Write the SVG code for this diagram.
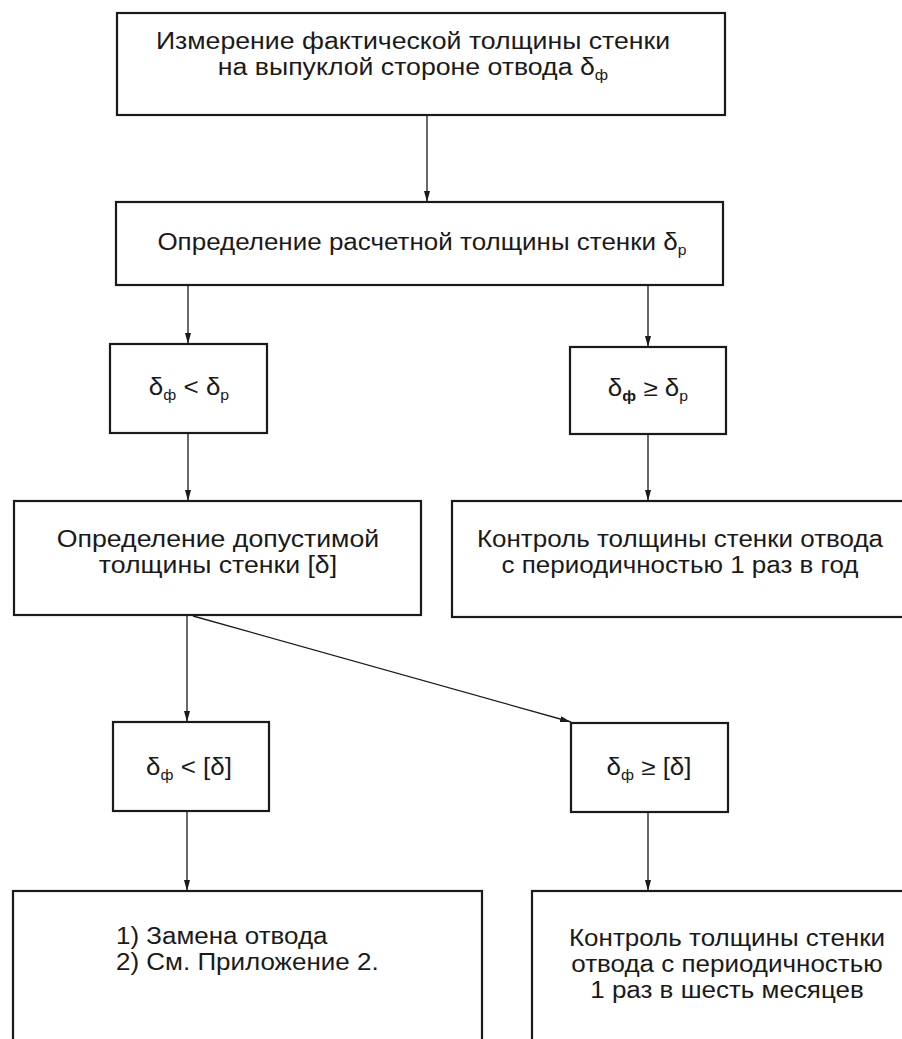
<svg xmlns="http://www.w3.org/2000/svg" width="902" height="1039" viewBox="0 0 902 1039">
<style>
.box{fill:#fff;stroke:#1a1a1a;stroke-width:2.2}
.con{fill:none;stroke:#1a1a1a;stroke-width:1.3}
.t{font-family:"Liberation Sans",Arial,sans-serif;font-size:23px;fill:#1a1a1a;text-anchor:middle}
.l{text-anchor:start}
.s{font-size:14px}
</style>
<defs>
<marker id="ah" markerUnits="userSpaceOnUse" markerWidth="11" markerHeight="6" refX="11" refY="3" orient="auto">
<path d="M0,0 L11,3 L0,6 z" fill="#1a1a1a"/>
</marker>
</defs>
<rect width="902" height="1039" fill="#fff"/>
<g id="connectors">
<line class="con" x1="427" y1="115" x2="427" y2="202" marker-end="url(#ah)"/>
<line class="con" x1="188" y1="285" x2="188" y2="344" marker-end="url(#ah)"/>
<line class="con" x1="648" y1="285" x2="648" y2="347" marker-end="url(#ah)"/>
<line class="con" x1="188" y1="433" x2="188" y2="501" marker-end="url(#ah)"/>
<line class="con" x1="648" y1="434" x2="648" y2="501" marker-end="url(#ah)"/>
<line class="con" x1="187" y1="615" x2="187" y2="722" marker-end="url(#ah)"/>
<line class="con" x1="193" y1="616" x2="571" y2="722" stroke-width="2" marker-end="url(#ah)"/>
<line class="con" x1="187" y1="811" x2="187" y2="891" marker-end="url(#ah)"/>
<line class="con" x1="648" y1="812" x2="648" y2="891" marker-end="url(#ah)"/>
</g>
<g id="n1">
<rect class="box" x="117" y="13" width="608" height="102"/>
<text class="t" transform="translate(413,49) scale(1.16,1)">Измерение фактической толщины стенки</text>
<text class="t" transform="translate(413,75) scale(1.16,1)">на выпуклой стороне отвода δ<tspan class="s" dy="5">ф</tspan></text>
</g>
<g id="n2">
<rect class="box" x="116" y="202" width="607" height="83"/>
<text class="t" transform="translate(422,250) scale(1.13,1)">Определение расчетной толщины стенки δ<tspan class="s" dy="5">р</tspan></text>
</g>
<g id="n3">
<rect class="box" x="110" y="344" width="157" height="89"/>
<text class="t" transform="translate(189,395) scale(1.13,1)">δ<tspan class="s" dy="5">ф</tspan><tspan dy="-5"> &lt; δ</tspan><tspan class="s" dy="5">р</tspan></text>
</g>
<g id="n4">
<rect class="box" x="570" y="347" width="156" height="87"/>
<text class="t" transform="translate(648,396) scale(1.13,1)">δ<tspan class="s" dy="5" font-weight="bold">ф</tspan><tspan dy="-5"> ≥ δ</tspan><tspan class="s" dy="5">р</tspan></text>
</g>
<g id="n5">
<rect class="box" x="14" y="501" width="407" height="114"/>
<text class="t" transform="translate(218,547) scale(1.16,1)">Определение допустимой</text>
<text class="t" transform="translate(218,573) scale(1.16,1)">толщины стенки [δ]</text>
</g>
<g id="n6">
<rect class="box" x="452" y="501" width="460" height="116"/>
<text class="t" transform="translate(680,547) scale(1.13,1)">Контроль толщины стенки отвода</text>
<text class="t" transform="translate(680,573) scale(1.13,1)">с периодичностью 1 раз в год</text>
</g>
<g id="n7">
<rect class="box" x="113" y="722" width="156" height="89"/>
<text class="t" transform="translate(189,775) scale(1.13,1)">δ<tspan class="s" dy="5">ф</tspan><tspan dy="-5"> &lt; [δ]</tspan></text>
</g>
<g id="n8">
<rect class="box" x="571" y="723" width="157" height="89"/>
<text class="t" transform="translate(649,775) scale(1.13,1)">δ<tspan class="s" dy="5">ф</tspan><tspan dy="-5"> ≥ [δ]</tspan></text>
</g>
<g id="n9">
<rect class="box" x="13" y="891" width="469" height="170"/>
<text class="t l" transform="translate(116,944) scale(1.13,1)">1) Замена отвода</text>
<text class="t l" transform="translate(116,970) scale(1.13,1)">2) См. Приложение 2.</text>
</g>
<g id="n10">
<rect class="box" x="532" y="891" width="390" height="170"/>
<text class="t" transform="translate(727,946) scale(1.13,1)">Контроль толщины стенки</text>
<text class="t" transform="translate(727,972) scale(1.13,1)">отвода с периодичностью</text>
<text class="t" transform="translate(727,998) scale(1.13,1)">1 раз в шесть месяцев</text>
</g>
</svg>
